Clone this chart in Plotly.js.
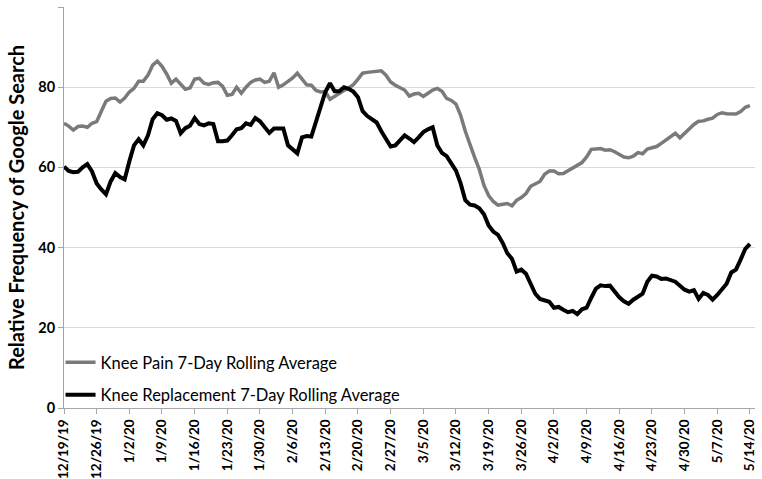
<!DOCTYPE html>
<html>
<head>
<meta charset="utf-8">
<script src="https://cdn.plot.ly/plotly-3.0.1.min.js"></script>
<style>html,body{margin:0;padding:0;background:#fff;}#chart{width:762px;height:479px;}</style>
</head>
<body>
<div id="chart"></div>
<script>
// Daily series from 12/19/2019 to 5/14/2020 (148 days)
var startDate = '2019-12-19';
var kneePain = [
71,70.3,69.3,70.2,70.3,70,71,71.4,74,76.5,
77.2,77.3,76.3,77.3,78.8,79.7,81.5,81.5,83,85.5,
86.5,85.2,83.3,81,82,80.8,79.5,79.8,82,82.2,
81,80.7,81.1,81.2,80.2,78,78.2,80,78.5,80,
81.2,81.8,82,81.2,81.5,83.6,80,80.6,81.5,82.3,
83.5,82.2,80.6,80.5,79.2,78.8,78.9,77,77.8,78.4,
79.2,79.8,80.6,82,83.5,83.7,83.8,84,84.1,83,
81.3,80.5,79.8,79.3,77.8,78.3,78.5,77.7,78.5,79.3,
79.7,79,77.2,76.7,75.8,73,69,65.5,62.5,59.5,
55.5,53,51.5,50.6,50.9,51,50.4,51.8,52.5,53.5,
55.3,55.8,56.5,58.3,59.1,59.1,58.4,58.5,59.2,59.8,
60.7,61.2,62.6,64.5,64.6,64.7,64.3,64.4,63.9,63.2,
62.6,62.4,62.8,63.7,63.4,64.6,64.8,65.2,66,66.9,
67.8,68.5,67.4,68.5,69.5,70.7,71.5,71.6,72,72.3,
73.2,73.6,73.4,73.4,73.3,73.9,75,75.4
];
var kneeReplacement = [
60.2,59.1,58.8,58.9,60,60.8,59,56,54.5,53.3,
56.5,58.6,57.6,57,61.5,65.5,67,65.5,68,72,
73.5,73,71.9,72.2,71.6,68.5,69.8,70.4,72.3,70.8,
70.5,71,70.8,66.5,66.5,66.7,68,69.5,69.8,71,
70.6,72.3,71.5,70.2,68.6,69.7,69.8,69.7,65.5,64.6,
63.5,67.5,67.8,67.7,71.5,75.3,78.8,81,79,79,
80,79.6,78.9,77.5,74,72.8,72.1,71.2,69,67,
65.2,65.5,66.8,68,67.2,66.3,67.5,68.8,69.5,70,
65.5,63.6,62.8,61,59.2,56,51.8,50.7,50.5,49.8,
48.3,45.5,44,43.2,41.2,38.6,37.2,34,34.5,33.5,
31,28.5,27.2,26.9,26.5,25,25.2,24.5,23.9,24.2,
23.4,24.6,25,27.5,29.8,30.6,30.4,30.5,29,27.6,
26.6,26,27,27.7,28.5,31.5,33,32.8,32.2,32.3,
32,31.5,30.5,29.5,29,29.4,27.2,28.7,28.2,27,
28.2,29.8,31,33.8,34.5,37,39.7,40.9
];
var tickLabels = ['12/19/19','12/26/19','1/2/20','1/9/20','1/16/20','1/23/20','1/30/20','2/6/20','2/13/20','2/20/20','2/27/20','3/5/20','3/12/20','3/19/20','3/26/20','4/2/20','4/9/20','4/16/20','4/23/20','4/30/20','5/7/20','5/14/20'];
var seriesNames = ['Knee Pain 7-Day Rolling Average','Knee Replacement 7-Day Rolling Average'];

function isoDay(i){
  var d = new Date(Date.UTC(2019,11,19));
  d.setUTCDate(d.getUTCDate()+i);
  return d.toISOString().slice(0,10);
}
var dates = kneePain.map(function(_,i){return isoDay(i);});
var tickVals = tickLabels.map(function(_,i){return isoDay(i*7);});

var font = 'Lato, "Open Sans", sans-serif';
var traces = [
  {x: dates, y: kneePain, type:'scatter', mode:'lines', name: seriesNames[0],
   line:{color:'#7a7a7a', width:3.5}, legendgroup:'a'},
  {x: dates, y: kneeReplacement, type:'scatter', mode:'lines', name: seriesNames[1],
   line:{color:'#000000', width:4}, legendgroup:'b'}
];
var layout = {
  width:762, height:479,
  margin:{l:64, r:7, t:7, b:71},
  paper_bgcolor:'#fff', plot_bgcolor:'#fff',
  showlegend:true,
  legend:{x:-0.005, y:-0.01, xanchor:'left', yanchor:'bottom', bgcolor:'rgba(0,0,0,0)',
    font:{family:font, size:16.5, color:'#000'}, tracegroupgap:8, traceorder:'grouped', itemwidth:30},
  xaxis:{type:'date', range:['2019-12-19', '2020-05-15 02:00'],
    tickvals:tickVals, ticktext:tickLabels, tickangle:-90,
    tickfont:{family:font, size:13.5, color:'#000', weight:'bold'},
    showgrid:false, zeroline:false, showline:true, linecolor:'#a6a6a6', linewidth:1,
    ticks:'outside', ticklen:5, tickcolor:'#a6a6a6', fixedrange:true},
  yaxis:{range:[0,100], tickvals:[0,20,40,60,80,100], ticktext:['0','20','40','60','80','100'],
    tickfont:{family:font, size:14.5, color:'#000', weight:'bold'},
    showgrid:true, gridcolor:'#d9d9d9', gridwidth:1, zeroline:false,
    showline:true, linecolor:'#a6a6a6', linewidth:1, ticks:'outside', ticklen:5, tickcolor:'#a6a6a6',
    title:{text:'Relative Frequency of Google Search', font:{family:font, size:20, color:'#000', weight:'bold'}, standoff:8}}
};
Plotly.newPlot('chart', traces, layout, {staticPlot:true, displayModeBar:false});
</script>
</body>
</html>
